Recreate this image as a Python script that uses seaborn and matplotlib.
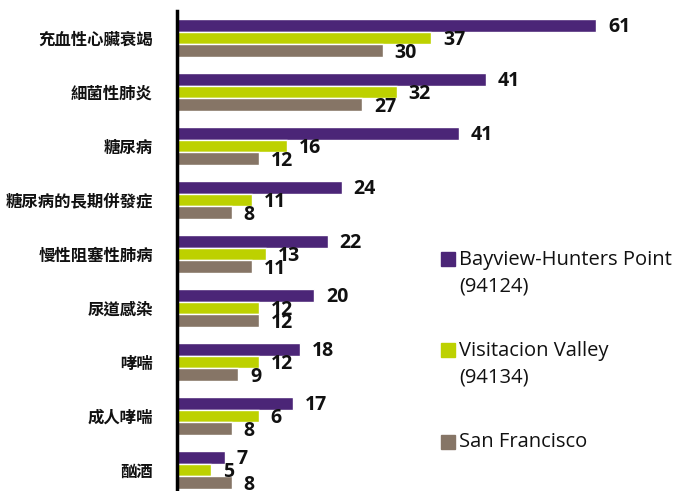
import pandas as pd
import matplotlib.pyplot as plt
from matplotlib.patches import Rectangle
import seaborn as sns

# dados do grafico
categorias = ['充血性心臟衰竭', '細菌性肺炎', '糖尿病', '糖尿病的長期併發症',
              '慢性阻塞性肺病', '尿道感染', '哮喘', '成人哮喘', '酗酒']
series = ['Bayview-Hunters Point\n(94124)', 'Visitacion Valley\n(94134)', 'San Francisco']
# comprimento das barras como aparecem na figura
bayview = [61, 45, 41, 24, 22, 20, 18, 17, 7]
visitacion = [37, 32, 16, 11, 13, 12, 12, 12, 5]
san_francisco = [30, 27, 12, 8, 11, 12, 9, 8, 8]
# rotulos impressos ao lado das barras
rot_bayview = ['61', '41', '41', '24', '22', '20', '18', '17', '7']
rot_visitacion = ['37', '32', '16', '11', '13', '12', '12', '6', '5']
rot_sf = ['30', '27', '12', '8', '11', '12', '9', '8', '8']
cores = ['#4B2577', '#BDD100', '#867566']

df = pd.DataFrame({
    'categoria': categorias * 3,
    'serie': [s for s in series for _ in categorias],
    'valor': bayview + visitacion + san_francisco,
})

sns.set_style('white')
plt.rcParams['font.family'] = ['Noto Sans CJK TC', 'DejaVu Sans']

fig = plt.figure(figsize=(6.81, 4.91), dpi=100)
ax = fig.add_axes([176.5 / 681, -0.0122, 481.6 / 681, 0.990])

sns.barplot(data=df, y='categoria', x='valor', hue='serie', hue_order=series,
            order=categorias, palette=cores, orient='h', width=0.71, gap=0,
            saturation=1, legend=False, ax=ax)

ax.set_xlim(0, 70)
ax.set_ylim(8.5, -0.5)
ax.set_xticks([])
ax.set_xlabel('')
ax.set_ylabel('')
ax.tick_params(axis='y', length=0, pad=17, labelsize=11.8)
for lab in ax.get_yticklabels():
    lab.set_fontweight('bold')
    lab.set_color('#111111')
for s in ['top', 'right', 'bottom']:
    ax.spines[s].set_visible(False)
ax.spines['left'].set_color('black')
ax.spines['left'].set_linewidth(2.5)
ax.spines['left'].set_zorder(5)

# rotulos em negrito um pouco abaixo do centro da barra
for cont, rot in zip(ax.containers, [rot_bayview, rot_visitacion, rot_sf]):
    for barra, txt in zip(cont, rot):
        yc = barra.get_y() + barra.get_height() / 2
        ax.annotate(txt, xy=(barra.get_width(), yc), xytext=(8.5, -1.5),
                    textcoords='offset points', va='center', ha='left',
                    fontsize=14, fontweight='bold', color='#111111',
                    family=['Open Sans', 'DejaVu Sans'], annotation_clip=False)

# legenda desenhada a mao (quadrado alinhado com a primeira linha)
y_linhas = [259, 350, 442]
for nome, cor, yl in zip(series, cores, y_linhas):
    n = nome.count('\n')
    fig.add_artist(Rectangle((441 / 681, 1 - (yl + 7) / 491), 14 / 681, 14 / 491,
                             transform=fig.transFigure, color=cor))
    fig.text(459 / 681, 1 - (yl + n * 14) / 491, nome, va='center', ha='left',
             fontsize=14.5, linespacing=1.45, family=['Open Sans', 'DejaVu Sans'],
             color='#111111')

fig.savefig('out.png', dpi=100)
